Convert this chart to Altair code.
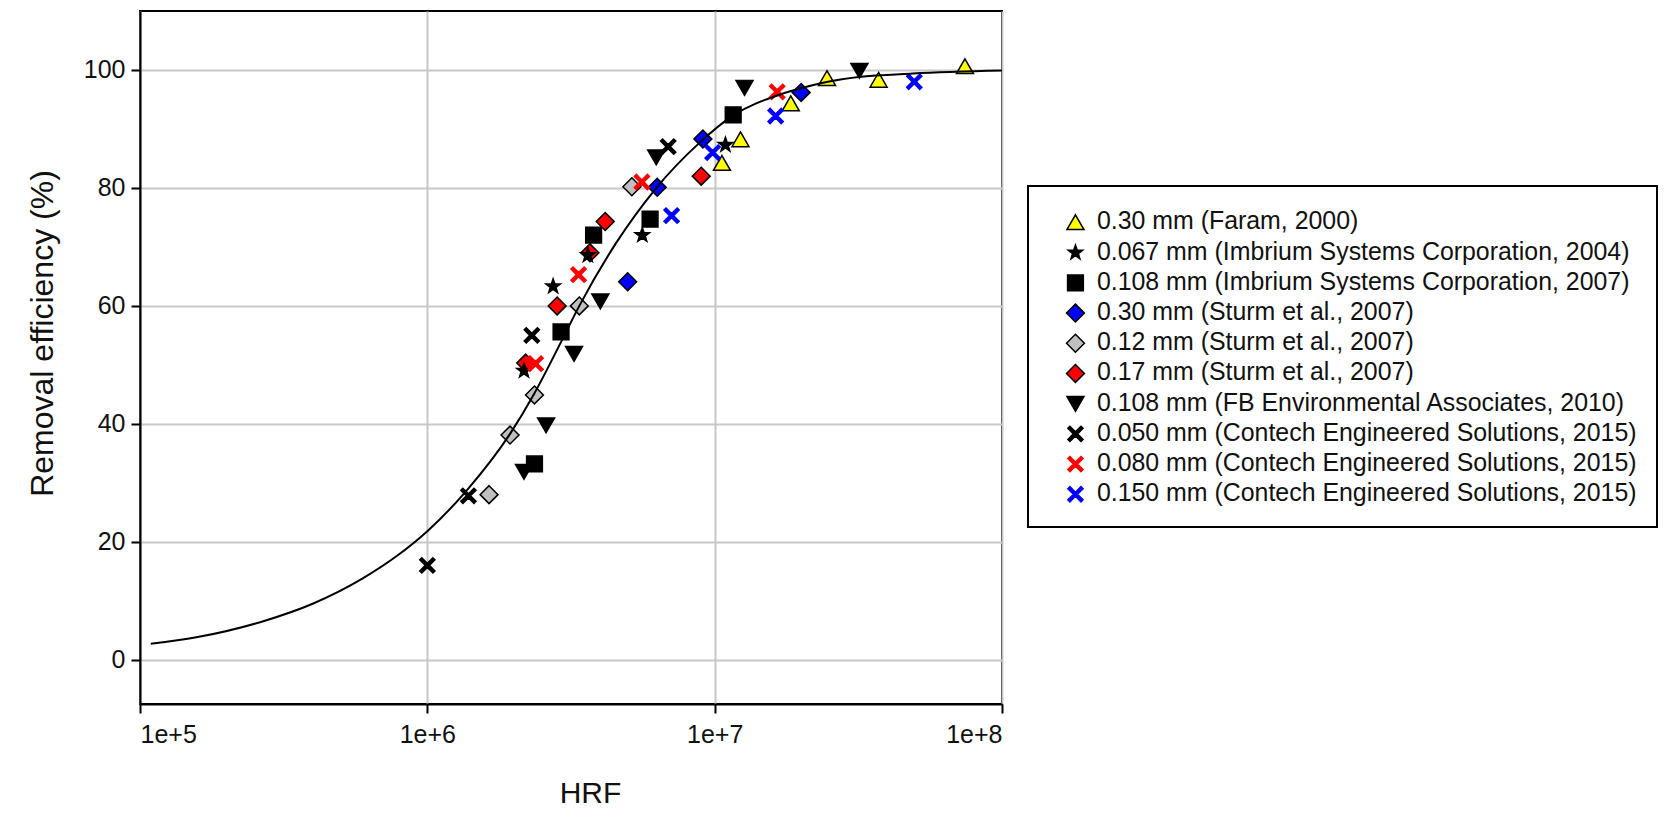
import altair as alt
import pandas as pd

# ---- series labels (legend order) ----
SERIES = [
    "0.30 mm (Faram, 2000)",
    "0.067 mm (Imbrium Systems Corporation, 2004)",
    "0.108 mm (Imbrium Systems Corporation, 2007)",
    "0.30 mm (Sturm et al., 2007)",
    "0.12 mm (Sturm et al., 2007)",
    "0.17 mm (Sturm et al., 2007)",
    "0.108 mm (FB Environmental Associates, 2010)",
    "0.050 mm (Contech Engineered Solutions, 2015)",
    "0.080 mm (Contech Engineered Solutions, 2015)",
    "0.150 mm (Contech Engineered Solutions, 2015)",
]

# ---- measured removal efficiencies vs. HRF ----
FARAM_HRF = [1.06e7, 1.23e7, 1.84e7, 2.46e7, 3.72e7, 7.43e7]
FARAM_EFF = [84.2, 88.2, 94.3, 98.6, 98.3, 100.6]

IMB04_HRF = [2.17e6, 2.74e6, 3.62e6, 5.60e6, 1.09e7]
IMB04_EFF = [49.0, 63.3, 68.6, 72.0, 87.3]

IMB07_HRF = [2.36e6, 2.92e6, 3.79e6, 5.96e6, 1.16e7]
IMB07_EFF = [33.2, 55.6, 72.0, 74.7, 92.4]

STURM30_HRF = [4.98e6, 6.31e6, 9.10e6, 2.00e7]
STURM30_EFF = [64.1, 80.1, 88.3, 96.2]

STURM12_HRF = [1.64e6, 1.94e6, 2.36e6, 3.38e6, 5.15e6]
STURM12_EFF = [28.0, 38.1, 44.9, 60.0, 80.2]

STURM17_HRF = [2.20e6, 2.83e6, 3.68e6, 4.16e6, 8.98e6]
STURM17_EFF = [50.3, 60.0, 69.0, 74.3, 82.0]

FB_HRF = [2.17e6, 2.59e6, 3.24e6, 4.00e6, 6.26e6, 1.27e7, 3.19e7]
FB_EFF = [31.9, 39.8, 51.9, 60.8, 85.2, 97.0, 99.9]

CT050_HRF = [1.00e6, 1.39e6, 2.31e6, 6.89e6]
CT050_EFF = [16.0, 27.8, 55.0, 87.0]

CT080_HRF = [2.38e6, 3.36e6, 5.58e6, 1.65e7]
CT080_EFF = [50.2, 65.3, 81.0, 96.3]

CT150_HRF = [7.08e6, 9.84e6, 1.63e7, 4.95e7]
CT150_EFF = [75.3, 86.0, 92.2, 98.0]

# ---- fitted curve, sampled along its length ----
CURVE_HRF = [1.09e5, 1.57e5, 2.67e5, 3.99e5, 5.96e5, 7.78e5, 1.0e6, 1.365e6,
             1.94e6, 2.36e6, 2.88e6, 3.38e6, 4.53e6, 6.24e6, 8.83e6, 1.16e7,
             1.68e7, 2.0e7, 2.48e7, 3.17e7, 4.9e7, 1.0e8]
CURVE_EFF = [2.7, 3.8, 6.5, 9.5, 13.8, 17.5, 21.8, 28.6,
             38.3, 45.2, 53.3, 60.0, 70.6, 79.9, 87.6, 92.3,
             95.8, 96.9, 98.0, 98.8, 99.4, 99.9]

# ---- axis ticks ----
X_TICKS = [1e5, 1e6, 1e7, 1e8]
Y_TICKS = [0, 20, 40, 60, 80, 100]

# ---- marker styling per series ----
TRI_UP = "M0,-0.85L0.95,0.8L-0.95,0.8Z"
TRI_DOWN = "M0,0.85L0.95,-0.8L-0.95,-0.8Z"
STAR = ("M0,-0.85L0.2,-0.275L0.808,-0.263L0.323,0.105L0.5,0.688L0,0.34"
        "L-0.5,0.688L-0.323,0.105L-0.808,-0.263L-0.2,-0.275Z")
SQUARE = "M-0.88,-0.88L0.88,-0.88L0.88,0.88L-0.88,0.88Z"
DIAMOND = "M0,-1L1,0L0,1L-1,0Z"
XMARK = ("M-0.85,-0.62L-0.62,-0.85L0,-0.23L0.62,-0.85L0.85,-0.62L0.23,0"
         "L0.85,0.62L0.62,0.85L0,0.23L-0.62,0.85L-0.85,0.62L-0.23,0Z")

SHAPES = [TRI_UP, STAR, SQUARE, DIAMOND, DIAMOND, DIAMOND, TRI_DOWN, XMARK, XMARK, XMARK]
FILLS = ["#ffff00", "#000000", "#000000", "#0000ff", "#c0c0c0", "#ff0000",
         "#000000", "#000000", "#ff0000", "#0000ff"]
STROKES = ["#000000", "#000000", "#000000", "#000000", "#000000", "#000000",
           "#000000", "#000000", "#ff0000", "#0000ff"]

HRF_LISTS = [FARAM_HRF, IMB04_HRF, IMB07_HRF, STURM30_HRF, STURM12_HRF,
             STURM17_HRF, FB_HRF, CT050_HRF, CT080_HRF, CT150_HRF]
EFF_LISTS = [FARAM_EFF, IMB04_EFF, IMB07_EFF, STURM30_EFF, STURM12_EFF,
             STURM17_EFF, FB_EFF, CT050_EFF, CT080_EFF, CT150_EFF]

# stacking order of the symbols (later ones drawn on top)
DRAW_ORDER = [0, 2, 3, 4, 5, 1, 6, 7, 8, 9]

rows = []
for i in DRAW_ORDER:
    for h, e in zip(HRF_LISTS[i], EFF_LISTS[i]):
        rows.append({"series": SERIES[i], "hrf": h, "eff": e})
points_df = pd.DataFrame(rows)
curve_df = pd.DataFrame({"hrf": CURVE_HRF, "eff": CURVE_EFF})

FONT = "Liberation Sans"
TEXT = "#111111"
MARK_SIZE = 320

x_enc = alt.X(
    "hrf:Q",
    scale=alt.Scale(type="log", domain=[1e5, 1e8], nice=False),
    axis=alt.Axis(
        values=X_TICKS,
        labelExpr="'1e+' + round(log(datum.value) / LN10)",
        title="HRF",
        labelPadding=9,
        titleFontSize=30,
        titleX=450,
        titleY=98,
        titleBaseline="alphabetic",
    ),
)
y_enc = alt.Y(
    "eff:Q",
    scale=alt.Scale(domain=[-7.5, 110], nice=False, zero=False),
    axis=alt.Axis(
        values=Y_TICKS,
        title="Removal efficiency (%)",
        labelPadding=6,
        titleX=-98,
        titleY=322,
        titleBaseline="middle",
    ),
)

legend = alt.Legend(
    title=" ",
    titleFontSize=4,
    titlePadding=0,
    orient="none",
    legendX=888,
    legendY=175,
    padding=20,
    strokeColor="#000000",
    fillColor="#ffffff",
    labelFont=FONT,
    labelFontSize=24.9,
    labelColor=TEXT,
    labelLimit=1000,
    labelOffset=9,
    symbolSize=MARK_SIZE,
    symbolStrokeWidth=1.5,
    symbolOffset=15,
    rowPadding=4.2,
)

points = alt.Chart(points_df).mark_point(
    filled=True, opacity=1, size=MARK_SIZE, strokeWidth=1.5
).encode(
    x=x_enc,
    y=y_enc,
    shape=alt.Shape("series:N", scale=alt.Scale(domain=SERIES, range=SHAPES), legend=legend),
    fill=alt.Fill("series:N", scale=alt.Scale(domain=SERIES, range=FILLS), legend=legend),
    stroke=alt.Stroke("series:N", scale=alt.Scale(domain=SERIES, range=STROKES), legend=legend),
)

curve = alt.Chart(curve_df).mark_line(
    color="#000000", strokeWidth=2, interpolate="monotone"
).encode(x=x_enc, y=y_enc)

chart = alt.layer(points, curve).properties(
    width=862,
    height=693,
    padding={"left": 140, "top": 11, "right": 663, "bottom": 118},
    autosize=alt.AutoSizeParams(type="none"),
    background="#ffffff",
).configure_view(
    stroke="#000000", strokeWidth=2
).configure_axis(
    domainColor="#000000",
    domainWidth=2,
    tickColor="#000000",
    tickWidth=2,
    tickSize=9,
    grid=True,
    gridColor="#c8c8c8",
    gridWidth=2,
    labelFont=FONT,
    labelFontSize=25,
    labelColor=TEXT,
    titleFont=FONT,
    titleFontSize=32,
    titleFontWeight="normal",
    titleColor=TEXT,
).configure_legend(
    strokeWidth=2
)

chart.save("out.html", embed_options={"renderer": "svg", "actions": False})
